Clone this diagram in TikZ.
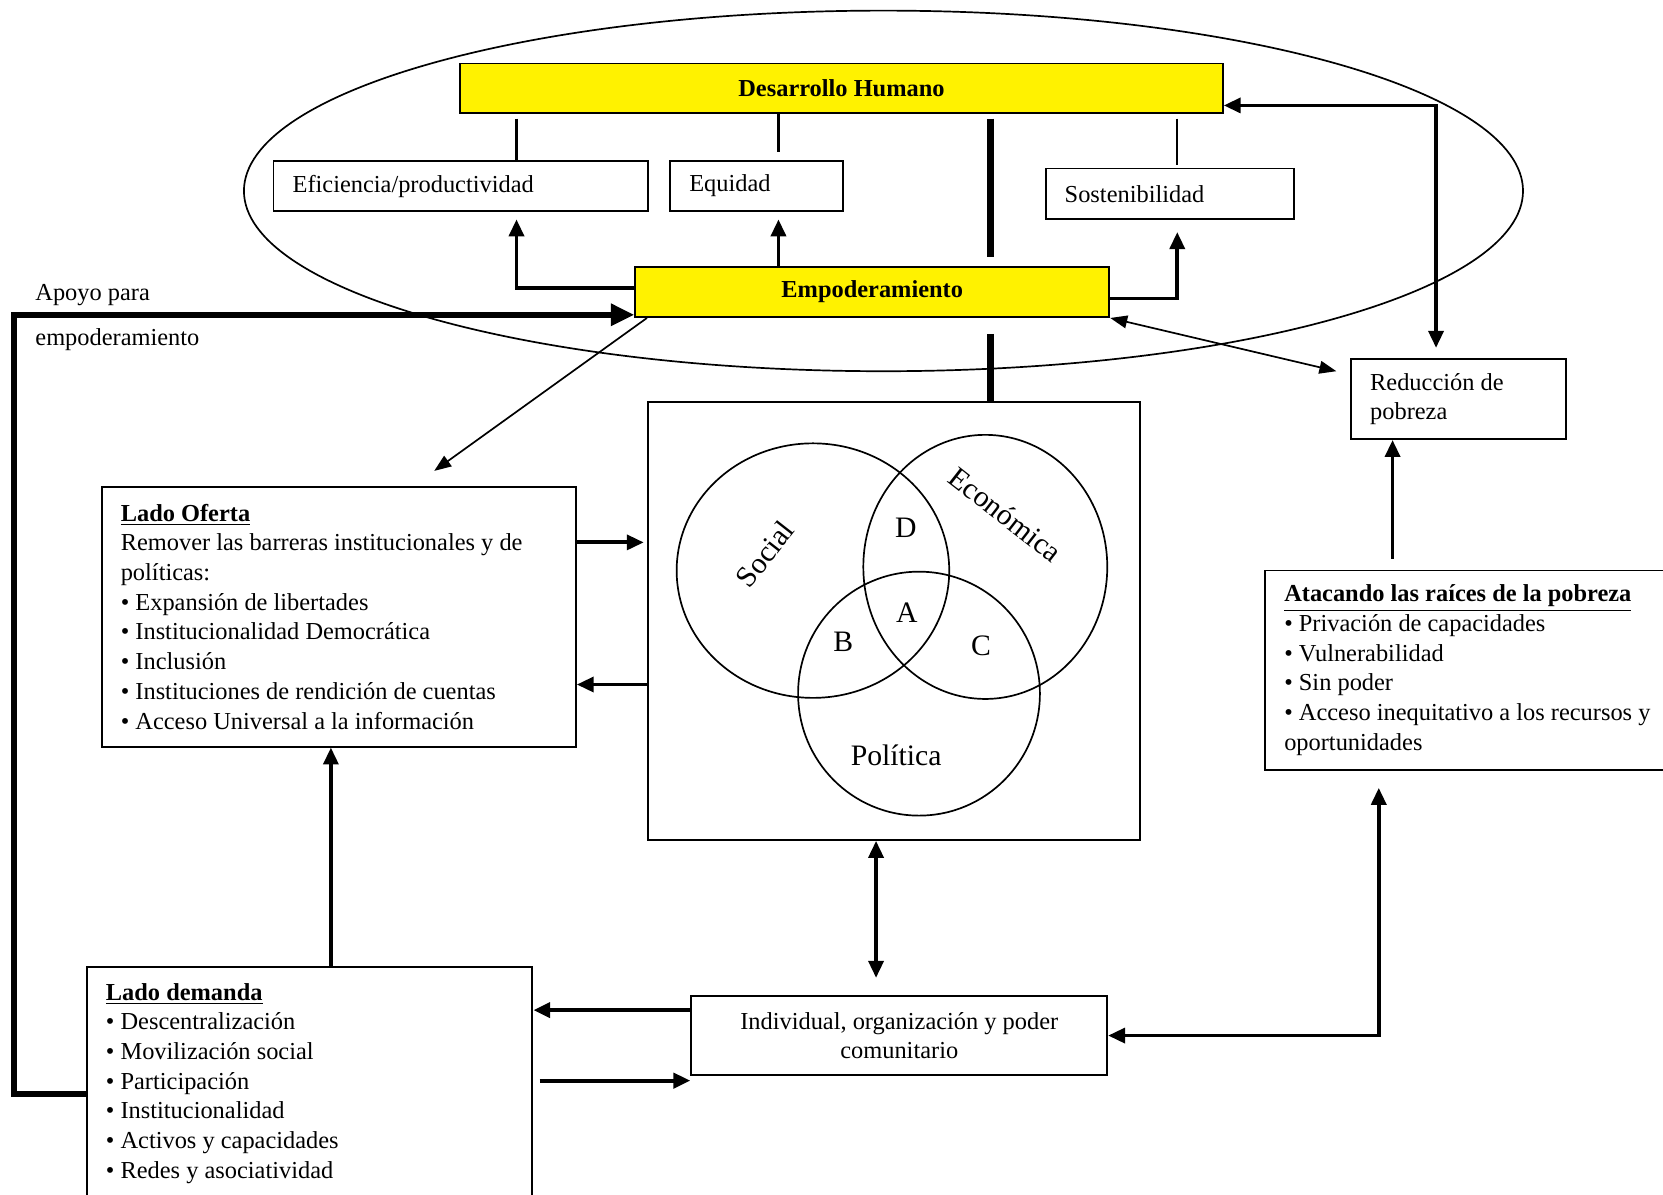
\documentclass[tikz,border=0pt]{standalone}
\usepackage{fontspec}
\setmainfont{Liberation Serif}
\usetikzlibrary{arrows.meta}

\tikzset{
  box/.style={draw, line width=0.9pt, inner xsep=9pt, inner ysep=0pt, align=flush left, anchor=north west},
  hbox/.style={draw, line width=0.9pt, fill=yellow, font=\fontsize{11.5}{14}\selectfont\bfseries, inner sep=0pt, anchor=north west},
  vlab/.style={font=\fontsize{14}{16}\selectfont, inner sep=0pt},
  lnk/.style={line width=1.8pt},
  lnkb/.style={line width=3pt},
  apoyo/.style={line width=2.6pt, >={Triangle[length=11pt,width=10pt]}},
  thinarr/.style={line width=0.8pt, >={Triangle[length=8pt,width=6pt]}}
}

\begin{document}
\begin{tikzpicture}[x=0.5pt, y=-0.5pt, font=\fontsize{11.5}{14}\selectfont, >={Triangle[length=8pt,width=7pt]}]
      \useasboundingbox (0,0) rectangle (1568,1126);
      \draw[line width=0.8pt] (833,180) ellipse [x radius=301.5pt, y radius=85pt];

      \node[hbox, minimum width=359.5pt, minimum height=23.5pt] (dh) at (433,59) {Desarrollo Humano};
      \node[box, text width=158.5pt, minimum height=23.5pt] (efi) at (257,151) {Eficiencia/productividad};
      \node[box, text width=63.5pt, minimum height=23.5pt] (equ) at (631,151) {Equidad};
      \node[box, text width=99pt, minimum height=24pt] (sos) at (985,158) {Sostenibilidad};
      \node[hbox, minimum width=223.5pt, minimum height=23.5pt] (empo) at (598,251) {Empoderamiento};
      \node[box, text width=83.5pt, minimum height=37.5pt] (red) at (1273,338) {Reducción de\\pobreza};
      \node[draw, line width=0.9pt, inner sep=0pt, anchor=north west, minimum width=232pt, minimum height=206.5pt] (venn) at (610,378) {};
      \node[box, text width=205.5pt, minimum height=122.5pt] (of) at (95,458) {\underline{\textbf{Lado Oferta}}\\Remover las barreras institucionales y de\\políticas:\\• Expansión de libertades\\• Institucionalidad Democrática\\• Inclusión\\• Instituciones de rendición de cuentas\\• Acceso Universal a la información};
      \node[box, text width=186pt, minimum height=94pt] (ata) at (1192,537) {\underline{\textbf{Atacando las raíces de la pobreza}}\\• Privación de capacidades\\• Vulnerabilidad\\• Sin poder\\• Acceso inequitativo a los recursos y\\oportunidades};
      \node[box, text width=192pt, minimum height=109.5pt] (dem) at (81,911) {\underline{\textbf{Lado demanda}}\\• Descentralización\\• Movilización social\\• Participación\\• Institucionalidad\\• Activos y capacidades\\• Redes y asociatividad};
      \node[box, align=flush center, text width=178pt, minimum height=37.5pt] (ind) at (651,938) {Individual, organización y poder\\comunitario};
      \node[anchor=west, inner sep=0pt] (ap1) at (33,278) {Apoyo para};
      \node[anchor=west, inner sep=0pt] (ap2) at (33,320) {empoderamiento};

      \draw[line width=0.8pt] (766.5,538) ellipse [x radius=64.25pt, y radius=60pt];
      \draw[line width=0.8pt] (929,534.5) ellipse [x radius=57.5pt, y radius=62.25pt];
      \draw[line width=0.8pt] (866.5,654) ellipse [x radius=57pt, y radius=57.5pt];
      \node[vlab, rotate=52] (soc) at (721,522) {Social};
      \node[vlab, rotate=-38] (eco) at (948,485) {Económica};
      \node[vlab] (pol) at (845,712) {Política};
      \node[vlab] (ld) at (854,498) {D};
      \node[vlab] (la) at (855,578) {A};
      \node[vlab] (lb) at (795,605) {B};
      \node[vlab] (lc) at (925,609) {C};

      \coordinate (cefi) at (487,0);
      \coordinate (cequ) at (734,0);
      \coordinate (csos) at (1110,0);
      \coordinate (cmid) at (934,0);
      \coordinate (cred) at (1354,0);
      \coordinate (cata) at (1313,0);
      \coordinate (cdem) at (312,0);
      \coordinate (cind) at (826,0);
      \coordinate (cright) at (1300,0);
      \coordinate (cleft) at (13,0);
      \coordinate (capo) at ([yshift=1.5pt]empo.south west);
      \coordinate (cof) at ([yshift=35pt]of.east);
      \coordinate (cvn) at ([yshift=-30pt]venn.west);
      \coordinate (cid) at ([yshift=12pt]ind.west);
      \coordinate (cdm) at ([shift={(3pt,1.25pt)}]dem.east);

      \draw[lnk, shorten <=2pt] (dh.south -| cefi) -- (efi.north -| cefi);
      \draw[lnk, shorten >=4pt] (dh.south -| cequ) -- (equ.north -| cequ);
      \draw[line width=1.1pt, shorten <=2pt, shorten >=1pt] (dh.south -| csos) -- (sos.north -| csos);
      \draw[lnkb, shorten <=2pt, shorten >=4.5pt] (dh.south -| cmid) -- (empo.north -| cmid);
      \draw[lnkb, shorten <=7.5pt] (empo.south -| cmid) -- (venn.north -| cmid);
      \draw[lnk, ->, shorten >=3.5pt] ([yshift=2pt]empo.west) -| (efi.south -| cefi);
      \draw[lnk, ->, shorten >=3.5pt] (empo.north -| cequ) -- (equ.south -| cequ);
      \draw[lnk, ->, shorten >=5.5pt] ([yshift=-3pt]empo.east) -| (sos.south -| csos);
      \draw[apoyo, ->] ([yshift=-5pt]dem.west) -| (cleft |- capo) -- (capo);
      \draw[thinarr, ->] ([xshift=6pt]empo.south west) -- ([shift={(45pt,7pt)}]of.north);
      \draw[thinarr, <->] (empo.south east) -- ([shift={(-6.5pt,-6pt)}]red.north west);
      \draw[lnk, <->, shorten >=5pt] ([yshift=-8pt]dh.east) -| (red.north -| cred);
      \draw[lnk, ->, shorten <=5pt] (ata.north -| cata) -- (red.south -| cata);
      \draw[lnk, ->, shorten >=1.5pt] (cof) -- (cof -| venn.west);
      \draw[lnk, ->] (cvn) -- (cvn -| of.east);
      \draw[lnk, ->] (dem.north -| cdem) -- (of.south -| cdem);
      \draw[lnk, <->, shorten >=8pt] (venn.south -| cind) -- (ind.north -| cind);
      \draw[lnk, line width=2pt, ->] (cid) -- (cid -| dem.east);
      \draw[lnk, line width=2pt, ->] (cdm) -- (cdm -| ind.west);
      \draw[lnk, <->, shorten <=8pt] (ata.south -| cright) |- (ind.east);
\end{tikzpicture}
\end{document}
